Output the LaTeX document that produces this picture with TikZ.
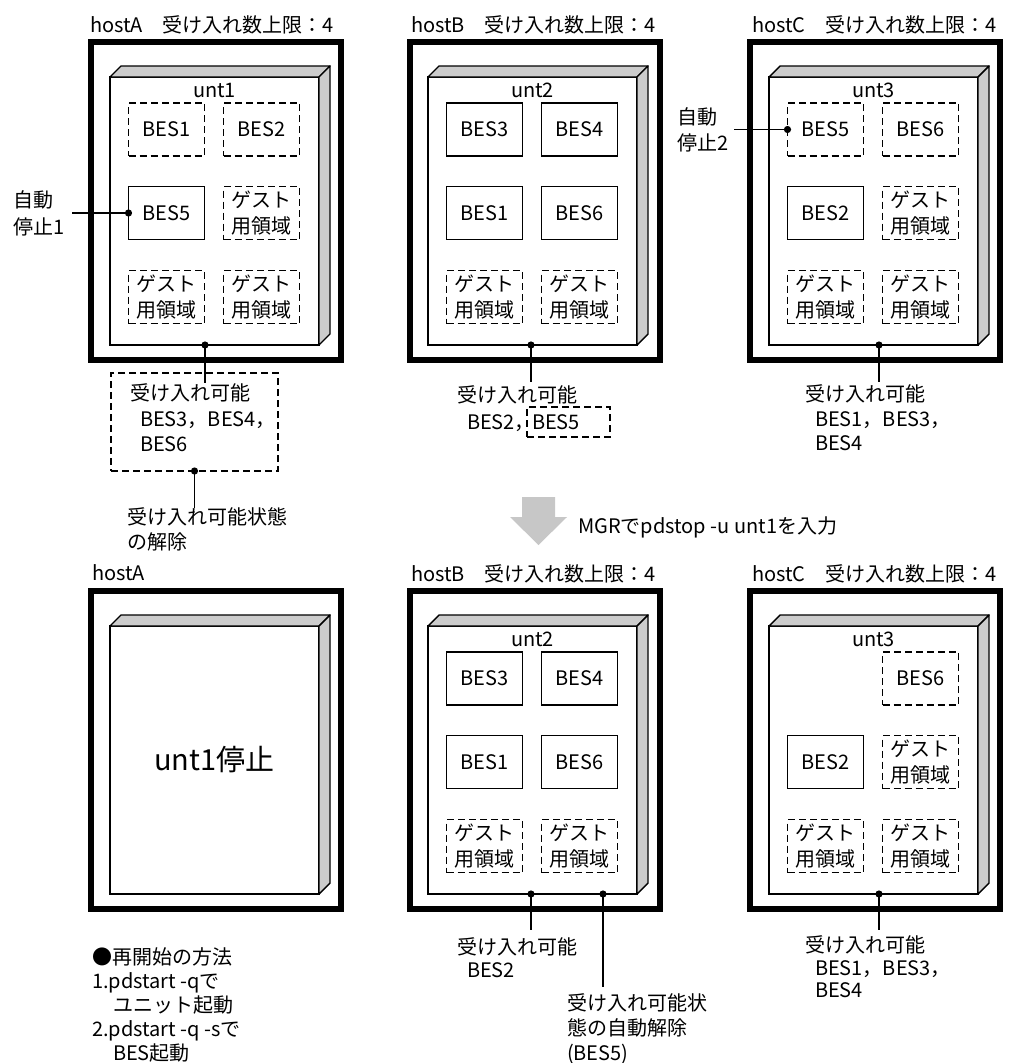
\documentclass[tikz,border=0pt]{standalone}
\usepackage{fontspec}
\setmainfont{Noto Sans CJK JP}
\usetikzlibrary{calc}
\newcommand\unitbox[3]{%
  \node[unitface] (#1) at (#2,#3) {};
  \draw[sideface] (#1.north west) -- ++(11,-11) -- ($(#1.north east)+(11,-11)$) -- (#1.north east) -- cycle;
  \draw[sideface] (#1.north east) -- ++(11,-11) -- ($(#1.south east)+(11,-11)$) -- (#1.south east) -- cycle;
}
\begin{document}
\begin{tikzpicture}[x=1pt,y=-1pt,
  every node/.style={font=\fontsize{20}{25}\selectfont, inner sep=0pt, outer sep=0pt},
  host/.style={draw, line width=6pt, minimum width=250pt, minimum height=318pt},
  unitface/.style={draw, line width=1.4pt, fill=white, minimum width=209pt, minimum height=268pt},
  sideface/.style={draw, line width=1.4pt, fill=black!20, line join=round},
  bes/.style={draw, line width=1.4pt, minimum width=76pt, minimum height=53pt, align=center},
  besd/.style={bes, line width=1.5pt, dash pattern=on 7pt off 4pt},
  guest/.style={besd, font=\fontsize{20}{26}\selectfont},
  dbox/.style={draw, line width=1.5pt, dash pattern=on 7pt off 4pt},
  txt/.style={anchor=north west, align=left},
  ttl/.style={anchor=west},
  wire/.style={line width=1.4pt},
  dotr/.style={radius=3.6pt}
]
\useasboundingbox (0,0) rectangle (1011,1063);

% ---------------- titles
\node[ttl] (tA) at (90,25) {hostA　受け入れ数上限：4};
\node[ttl] (tB) at (411,25) {hostB　受け入れ数上限：4};
\node[ttl] (tC) at (752,25) {hostC　受け入れ数上限：4};
\node[ttl] (tA2) at (92,573) {hostA};
\node[ttl] (tB2) at (411,574) {hostB　受け入れ数上限：4};
\node[ttl] (tC2) at (752,574) {hostC　受け入れ数上限：4};

% ---------------- host boxes
\node[host] (hA) at (216,201) {};
\node[host] (hB) at (535,201) {};
\node[host] (hC) at (875,201) {};
\node[host] (hA2) at (216,750) {};
\node[host] (hB2) at (535,750) {};
\node[host] (hC2) at (875,750) {};

% ---------------- units
\unitbox{uA}{214.5}{211}
\unitbox{uB}{532.5}{211}
\unitbox{uC}{873.5}{211}
\unitbox{uA2}{214.5}{760}
\unitbox{uB2}{532.5}{760}
\unitbox{uC2}{873.5}{760}

\node (nA) at (214.5,90) {unt1};
\node (nB) at (532.5,90) {unt2};
\node (nC) at (873.5,90) {unt3};
\node (nB2) at (532.5,639) {unt2};
\node (nC2) at (873.5,639) {unt3};
\node[font=\fontsize{29}{34}\selectfont] (stop) at (214.5,760) {unt1停止};

% ---------------- host A top
\node[besd] (a1) at (166.5,129.5) {BES1};
\node[besd] (a2) at (261.5,129.5) {BES2};
\node[bes] (a5) at (166.5,213) {BES5};
\node[guest] (ag1) at (261.5,213) {ゲスト\\用領域};
\node[guest] (ag2) at (166.5,297) {ゲスト\\用領域};
\node[guest] (ag3) at (261.5,297) {ゲスト\\用領域};

% ---------------- host B top
\node[bes] (b3) at (484.5,129.5) {BES3};
\node[bes] (b4) at (579.5,129.5) {BES4};
\node[bes] (b1) at (484.5,213) {BES1};
\node[bes] (b6) at (579.5,213) {BES6};
\node[guest] (bg1) at (484.5,297) {ゲスト\\用領域};
\node[guest] (bg2) at (579.5,297) {ゲスト\\用領域};

% ---------------- host C top
\node[besd] (c5) at (825.5,129.5) {BES5};
\node[besd] (c6) at (920.5,129.5) {BES6};
\node[bes] (c2) at (825.5,213) {BES2};
\node[guest] (cg1) at (920.5,213) {ゲスト\\用領域};
\node[guest] (cg2) at (825.5,297) {ゲスト\\用領域};
\node[guest] (cg3) at (920.5,297) {ゲスト\\用領域};

% ---------------- host B bottom
\node[bes] (d3) at (484.5,678.5) {BES3};
\node[bes] (d4) at (579.5,678.5) {BES4};
\node[bes] (d1) at (484.5,762) {BES1};
\node[bes] (d6) at (579.5,762) {BES6};
\node[guest] (dg1) at (484.5,846) {ゲスト\\用領域};
\node[guest] (dg2) at (579.5,846) {ゲスト\\用領域};

% ---------------- host C bottom
\node[besd] (e6) at (920.5,678.5) {BES6};
\node[bes] (e2) at (825.5,762) {BES2};
\node[guest] (eg1) at (920.5,762) {ゲスト\\用領域};
\node[guest] (eg2) at (825.5,846) {ゲスト\\用領域};
\node[guest] (eg3) at (920.5,846) {ゲスト\\用領域};

% ---------------- labels
\node[txt, font=\fontsize{20}{27}\selectfont] (lstop1) at (13,191) {自動\\停止1};
\node[txt, font=\fontsize{20}{26}\selectfont] (lstop2) at (677,108) {自動\\停止2};

\node[dbox, minimum width=167pt, minimum height=98pt] (accA) at (194.5,422) {};
\node[txt, font=\fontsize{20}{25.5}\selectfont] (laccA) at (130,384) {受け入れ可能\\\hspace{10pt}BES3，BES4，\\\hspace{10pt}BES6};
\node[txt] (lrelA) at (127,508) {受け入れ可能状態\\の解除};

\node[txt, font=\fontsize{20}{27}\selectfont] (laccB) at (457,386) {受け入れ可能\\\hspace{10pt}BES2，};
\node[dbox, anchor=west, minimum height=30pt, text width=73pt, inner xsep=5pt, align=left] (accB) at (527,422) {BES5};

\node[txt, font=\fontsize{20}{24.5}\selectfont] (laccC) at (805,385) {受け入れ可能\\\hspace{10pt}BES1，BES3，\\\hspace{10pt}BES4};

\node[ttl] (mgr) at (578,527) {MGRでpdstop -u unt1を入力};

\node[txt, font=\fontsize{20}{23}\selectfont] (laccB2) at (457,938) {受け入れ可能\\\hspace{10pt}BES2};
\node[txt] (lrelB2) at (567,994) {受け入れ可能状\\態の自動解除\\(BES5)};
\node[txt, font=\fontsize{20}{22.5}\selectfont] (laccC2) at (805,936) {受け入れ可能\\\hspace{10pt}BES1，BES3，\\\hspace{10pt}BES4};

\node[txt, font=\fontsize{20}{24}\selectfont] (restart) at (92,948) {●再開始の方法\\1.pdstart -qで\\\hspace{21pt}ユニット起動\\2.pdstart -q -sで\\\hspace{21pt}BES起動};

% ---------------- arrow
\fill[black!22] (522,497) -- (555,497) -- (555,517) -- (567,517) -- (538.5,545) -- (510,517) -- (522,517) -- cycle;

% ---------------- connectors
\coordinate (s1) at (72,213);
\draw[wire] (s1) -- (a5.west);
\fill (a5.west) circle[dotr];

\coordinate (s2) at (734,129.5);
\draw[wire] (s2) -- (c5.west);
\fill (c5.west) circle[dotr];

\coordinate (pA) at (205,345);
\coordinate (qA) at (205,383);
\draw[wire] (pA) -- (qA);
\fill (pA) circle[dotr];

\coordinate (rA) at (194.5,508);
\draw[wire] (accA.south) -- (rA);
\fill (accA.south) circle[dotr];

\coordinate (pB) at (531,345);
\coordinate (qB) at (531,382);
\draw[wire] (pB) -- (qB);
\fill (pB) circle[dotr];

\coordinate (pC) at (879,345);
\coordinate (qC) at (879,382);
\draw[wire] (pC) -- (qC);
\fill (pC) circle[dotr];

\coordinate (pB2) at (531,894);
\coordinate (qB2) at (531,930);
\draw[wire] (pB2) -- (qB2);
\fill (pB2) circle[dotr];

\coordinate (pB3) at (603,894);
\coordinate (qB3) at (603,987);
\draw[wire] (pB3) -- (qB3);
\fill (pB3) circle[dotr];

\coordinate (pC2) at (879,894);
\coordinate (qC2) at (879,930);
\draw[wire] (pC2) -- (qC2);
\fill (pC2) circle[dotr];
\end{tikzpicture}
\end{document}
